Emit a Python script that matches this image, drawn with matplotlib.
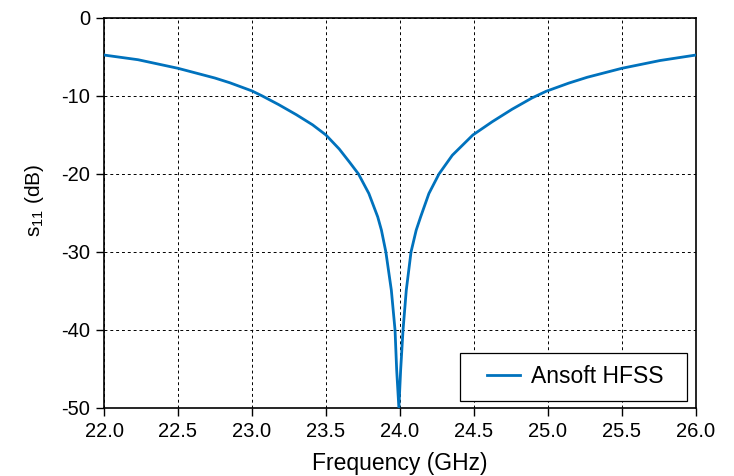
import matplotlib
matplotlib.use("Agg")
import matplotlib.pyplot as plt
from matplotlib.legend_handler import HandlerLine2D

plt.rcParams['font.family'] = ['Liberation Sans', 'DejaVu Sans']
plt.rcParams['mathtext.fontset'] = 'custom'
plt.rcParams['mathtext.rm'] = 'Liberation Sans'
plt.rcParams['axes.unicode_minus'] = False

freq_ghz = [22.00, 22.23, 22.50, 22.75, 22.85, 23.00, 23.07, 23.18, 23.30, 23.41,
            23.50, 23.59, 23.66, 23.72, 23.79, 23.85, 23.875, 23.905, 23.942,
            23.967, 23.978, 23.993,
            24.005, 24.021, 24.043, 24.075, 24.11, 24.14, 24.196, 24.264, 24.354,
            24.493, 24.624, 24.758, 24.893, 24.988, 25.141, 25.266, 25.50,
            25.759, 26.00]
s11_db = [-4.75, -5.35, -6.45, -7.7, -8.3, -9.35, -10.0, -11.1, -12.4, -13.7,
          -15.0, -16.8, -18.5, -20.0, -22.5, -25.5, -27.2, -30.0, -34.9,
          -40.0, -45.1, -50.0,
          -45.1, -40.0, -34.9, -30.0, -27.2, -25.5, -22.5, -20.0, -17.6,
          -15.0, -13.3, -11.7, -10.25, -9.4, -8.35, -7.6, -6.45,
          -5.45, -4.75]
series_label = "Ansoft HFSS"
x_ticks = [22.0, 22.5, 23.0, 23.5, 24.0, 24.5, 25.0, 25.5, 26.0]
y_ticks = [0, -10, -20, -30, -40, -50]


class PaddedLineHandler(HandlerLine2D):
    def get_xdata(self, legend, xdescent, ydescent, width, height, fontsize):
        x0 = -xdescent + width * 0.30
        x1 = -xdescent + width
        return [x0, x1], [x0, x1]


fig = plt.figure(figsize=(7.34, 4.76), dpi=100)
ax = fig.add_axes([0.1417, 0.1429, 0.8063, 0.8193])
line, = ax.plot(freq_ghz, s11_db, color='#0072BD', lw=2.0, label=series_label,
                zorder=3, solid_joinstyle='round')
ax.set_xlim(22, 26)
ax.set_ylim(-50, 0)
ax.set_xticks(x_ticks)
ax.set_xticklabels([f"{t:.1f}" for t in x_ticks])
ax.set_yticks(y_ticks)
ax.grid(True, color='black', linestyle=(0, (3, 3)), linewidth=0.7)
ax.tick_params(direction='out', length=6, width=1, labelsize=14.5, pad=4,
               top=False, right=False)
for sp in ax.spines.values():
    sp.set_linewidth(1.2)
ax.set_xlabel("Frequency (GHz)", fontsize=16.5)
ax.xaxis.set_label_coords(0.5, -0.113)
ax.set_ylabel(r"$\mathregular{s_{11}}$ (dB)", fontsize=15)
ax.yaxis.set_label_coords(-0.098, 0.533)
leg = ax.legend(loc='lower right', fontsize=16.5, frameon=True, fancybox=False,
                edgecolor='black', framealpha=1, borderpad=0.55,
                handlelength=2.1, handletextpad=0.45, borderaxespad=0,
                bbox_to_anchor=(0.601, 0.018, 0.3834, 0.126), mode='expand',
                handler_map={line: PaddedLineHandler()})
leg.get_frame().set_linewidth(0.9)
fig.savefig("out.png", dpi=100)
